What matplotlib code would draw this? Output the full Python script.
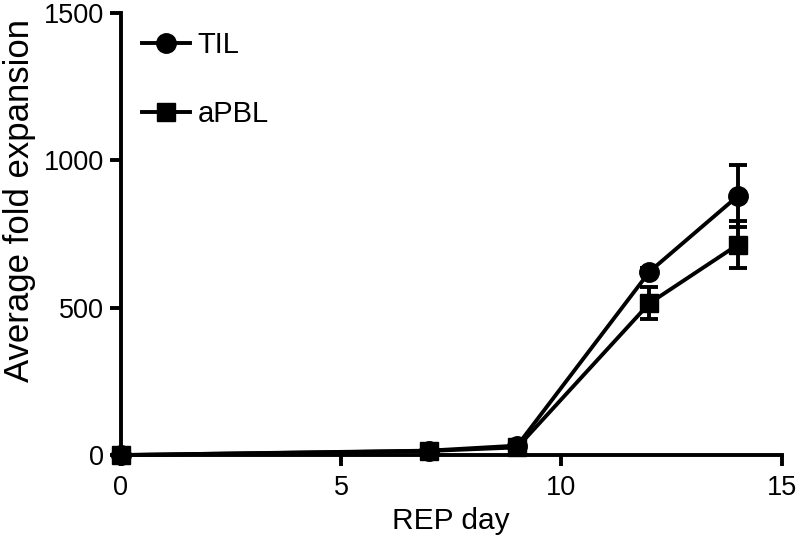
import matplotlib.pyplot as plt

plt.rcParams['font.family'] = ['Liberation Sans', 'DejaVu Sans']

days = [0, 7, 9, 12, 14]
til_mean = [0, 15, 32, 622, 878]
til_err = [0, 4, 6, 12, 105]
apbl_mean = [0, 14, 26, 515, 713]
apbl_err = [0, 4, 6, 55, 80]

fig = plt.figure(figsize=(8.1, 5.36), dpi=100)
ax = fig.add_axes([0.149, 0.151, 0.816, 0.825])

lw = 2.8
# error bars first, then the lines with markers on top
ax.errorbar(days, til_mean, yerr=til_err, fmt='none', ecolor='black',
            elinewidth=lw, capsize=6.5, capthick=lw, zorder=2)
ax.errorbar(days, apbl_mean, yerr=apbl_err, fmt='none', ecolor='black',
            elinewidth=lw, capsize=6.5, capthick=lw, zorder=2)
ax.plot(days, til_mean, color='black', lw=lw, marker='o', markersize=14,
        label='TIL', zorder=3, clip_on=False)
ax.plot(days, apbl_mean, color='black', lw=lw, marker='s', markersize=12.5,
        label='aPBL', zorder=3, clip_on=False)

ax.set_xlim(0, 15)
ax.set_ylim(0, 1500)
ax.set_xticks([0, 5, 10, 15])
ax.set_yticks([0, 500, 1000, 1500])

for side in ['top', 'right']:
    ax.spines[side].set_visible(False)
for side in ['left', 'bottom']:
    ax.spines[side].set_linewidth(lw)
ax.tick_params(width=lw, length=8, labelsize=19.5)
ax.tick_params(axis='x', pad=6)
ax.tick_params(axis='y', pad=4)

ax.set_xlabel('REP day', fontsize=21.5, labelpad=5)
ax.set_ylabel('Average fold expansion', fontsize=25)
ax.yaxis.set_label_coords(-0.128, 0.575)

ax.legend(loc='upper left', bbox_to_anchor=(0.032, 0.958), frameon=False,
          fontsize=21, handlelength=1.65, handletextpad=0.25,
          labelspacing=1.4, borderaxespad=0, borderpad=0)

fig.savefig('out.png', dpi=100)
